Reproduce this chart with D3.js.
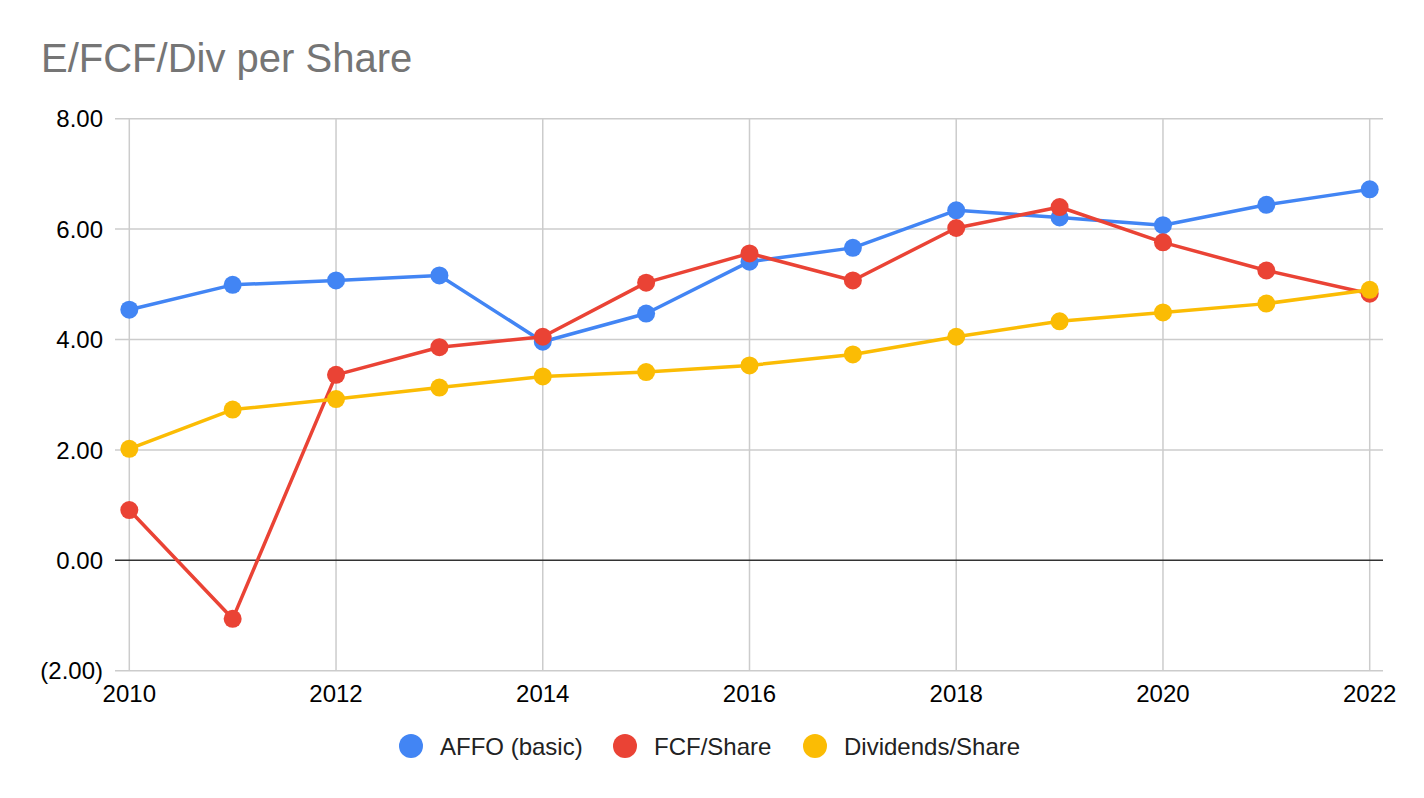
<!doctype html>
<html>
<head>
  <meta charset="utf-8">
  <script src="https://cdnjs.cloudflare.com/ajax/libs/d3/7.8.5/d3.min.js"></script>
  <style>
    body { margin: 0; background: #fff; }
    svg { display: block; font-family: Arial, "Liberation Sans", sans-serif; }
  </style>
</head>
<body>
  <svg id="chart" width="1424" height="798"></svg>
  <script>
    // data
    var years = [2010, 2011, 2012, 2013, 2014, 2015, 2016, 2017, 2018, 2019, 2020, 2021, 2022];
    var affo = [4.54, 4.99, 5.07, 5.16, 3.96, 4.47, 5.41, 5.66, 6.34, 6.21, 6.07, 6.44, 6.72];
    var fcf = [0.91, -1.06, 3.36, 3.86, 4.05, 5.03, 5.56, 5.07, 6.02, 6.40, 5.76, 5.25, 4.83];
    var divs = [2.02, 2.73, 2.92, 3.13, 3.33, 3.41, 3.53, 3.73, 4.05, 4.33, 4.49, 4.65, 4.90];
    var seriesNames = ["AFFO (basic)", "FCF/Share", "Dividends/Share"];
    var seriesColors = ["#4285F4", "#EA4335", "#FBBC04"];
    var yTicks = [-2, 0, 2, 4, 6, 8];
    var xTicks = [2010, 2012, 2014, 2016, 2018, 2020, 2022];

    var svg = d3.select("#chart");

    var x = d3.scaleLinear().domain([2010, 2022]).range([129.3, 1369.7]);
    var y = d3.scaleLinear().domain([-2, 8]).range([670.7, 118.7]);
    var left = 115, right = 1383;

    var fmt = function (v) {
      var s = d3.format(".2f")(Math.abs(v));
      return v < 0 ? "(" + s + ")" : s;
    };

    // title
    svg.append("text")
      .attr("x", 41).attr("y", 72)
      .attr("font-size", 40)
      .attr("fill", "#757575")
      .text("E/FCF/Div per Share");

    // horizontal grid
    svg.append("g").selectAll("line")
      .data(yTicks.filter(function (d) { return d !== 0; }))
      .enter().append("line")
      .attr("x1", left).attr("x2", right)
      .attr("y1", function (d) { return y(d); })
      .attr("y2", function (d) { return y(d); })
      .attr("stroke", "#cccccc").attr("stroke-width", 1.5);

    // vertical grid
    svg.append("g").selectAll("line")
      .data(xTicks)
      .enter().append("line")
      .attr("x1", function (d) { return x(d); })
      .attr("x2", function (d) { return x(d); })
      .attr("y1", y(8)).attr("y2", y(-2))
      .attr("stroke", "#cccccc").attr("stroke-width", 1.5);

    // zero line
    svg.append("line")
      .attr("x1", left).attr("x2", right)
      .attr("y1", y(0)).attr("y2", y(0))
      .attr("stroke", "#333333").attr("stroke-width", 1.5);

    // y labels
    svg.append("g").selectAll("text")
      .data(yTicks)
      .enter().append("text")
      .attr("x", 103)
      .attr("y", function (d) { return y(d); })
      .attr("dy", "0.36em")
      .attr("text-anchor", "end")
      .attr("font-size", 24)
      .attr("fill", "#000")
      .text(fmt);

    // x labels
    svg.append("g").selectAll("text")
      .data(xTicks)
      .enter().append("text")
      .attr("x", function (d) { return x(d); })
      .attr("y", 702)
      .attr("text-anchor", "middle")
      .attr("font-size", 24)
      .attr("fill", "#000")
      .text(function (d) { return d; });

    // series
    var allSeries = [affo, fcf, divs];
    var line = d3.line()
      .x(function (d, i) { return x(years[i]); })
      .y(function (d) { return y(d); });

    allSeries.forEach(function (vals, k) {
      var g = svg.append("g");
      g.append("path")
        .datum(vals)
        .attr("d", line)
        .attr("fill", "none")
        .attr("stroke", seriesColors[k])
        .attr("stroke-width", 3.5)
        .attr("stroke-linejoin", "round");
      g.selectAll("circle")
        .data(vals)
        .enter().append("circle")
        .attr("cx", function (d, i) { return x(years[i]); })
        .attr("cy", function (d) { return y(d); })
        .attr("r", 9)
        .attr("fill", seriesColors[k]);
    });

    // legend
    var legendX = [411, 625, 815];
    var legend = svg.append("g").selectAll("g")
      .data(seriesNames)
      .enter().append("g")
      .attr("transform", function (d, i) { return "translate(" + legendX[i] + ",746)"; });
    legend.append("circle")
      .attr("r", 12)
      .attr("fill", function (d, i) { return seriesColors[i]; });
    legend.append("text")
      .attr("x", 29)
      .attr("dy", "0.36em")
      .attr("font-size", 24)
      .attr("fill", "#222")
      .text(function (d) { return d; });
  </script>
</body>
</html>
